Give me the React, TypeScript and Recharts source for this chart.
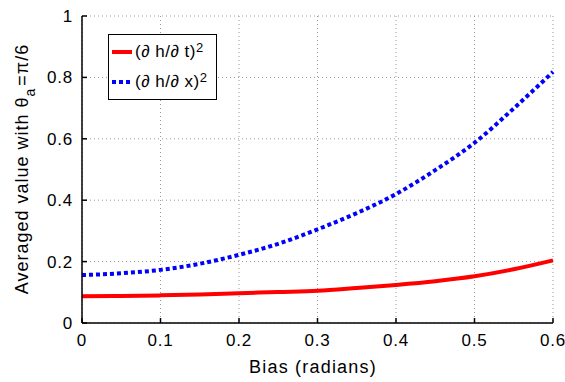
import { LineChart, Line, XAxis, YAxis, CartesianGrid } from 'recharts'

const BIAS = [0, 0.05, 0.1, 0.15, 0.2, 0.25, 0.3, 0.35, 0.4, 0.45, 0.5, 0.55, 0.6]
const DH_DT = [0.087, 0.088, 0.09, 0.093, 0.097, 0.101, 0.105, 0.114, 0.124, 0.136, 0.152, 0.175, 0.204]
const DH_DX = [0.156, 0.162, 0.173, 0.193, 0.222, 0.258, 0.305, 0.358, 0.42, 0.498, 0.587, 0.699, 0.818]
const X_TICKS = [0, 0.1, 0.2, 0.3, 0.4, 0.5, 0.6]
const Y_TICKS = [0, 0.2, 0.4, 0.6, 0.8, 1]

const FONT = '"Liberation Sans", Arial, Helvetica, sans-serif'

const data = BIAS.map((b, i) => ({ bias: b, dt: DH_DT[i], dx: DH_DX[i] }))

const noTick = () => <g />

function YLabel() {
  const cx = 28
  const cy = 169
  return (
    <text x={cx} y={cy} transform={`rotate(-90, ${cx}, ${cy})`} textAnchor="middle"
      fontSize={18} letterSpacing={1} fontFamily={FONT} fill="#000">
      Averaged value with θ
      <tspan dy={7} fontSize={14}>a</tspan>
      <tspan dy={-7} dx={2}>=π/6</tspan>
    </text>
  )
}

function XLabel() {
  return (
    <text x={313} y={373} textAnchor="middle" fontSize={18} letterSpacing={1.2}
      fontFamily={FONT} fill="#000">
      Bias (radians)
    </text>
  )
}

function LegendBox() {
  const row = (color: string, dash: string | undefined, label: string) => (
    <div style={{ display: 'flex', alignItems: 'center', height: 30 }}>
      <svg width={24} height={10} style={{ marginRight: 2 }}>
        <line x1={3} y1={5} x2={23} y2={5} stroke={color} strokeWidth={4} strokeDasharray={dash} />
      </svg>
      <span style={{ letterSpacing: 0.5 }}>
        {label}
        <sup style={{ fontSize: 13, verticalAlign: 'top', position: 'relative', top: -4 }}>2</sup>
      </span>
    </div>
  )
  return (
    <div style={{
      position: 'absolute', left: 108, top: 34,
      border: '1.5px solid #000', background: '#fff', width: 107, height: 62,
      fontFamily: FONT, fontSize: 17, lineHeight: '20px', color: '#000', paddingTop: 2,
      boxSizing: 'content-box',
    }}>
      {row('#ff0000', undefined, '(∂ h/∂ t)')}
      {row('#0000ff', '4 3', '(∂ h/∂ x)')}
    </div>
  )
}

export default function App() {
  const tickStyle = { fill: '#000', fontSize: 17, fontFamily: FONT, letterSpacing: 0.8 }
  return (
    <div style={{ position: 'absolute', left: 0, top: 0, width: 565, height: 382, background: '#fff' }}>
      <LineChart width={565} height={382} data={data}
        margin={{ top: 16, right: 12, bottom: 20, left: 22 }}>
        <CartesianGrid stroke="#999" strokeDasharray="1 3" />
        <XAxis dataKey="bias" type="number" domain={[0, 0.6]} ticks={X_TICKS}
          tickFormatter={v => String(v)} stroke="#000" strokeWidth={1.5}
          tickSize={-5} tickMargin={16} height={39}
          tick={tickStyle}
          label={<XLabel />} />
        <XAxis xAxisId="top" orientation="top" dataKey="bias" type="number" domain={[0, 0.6]}
          ticks={X_TICKS} stroke="#000" strokeWidth={1.5} tickSize={-5} tick={noTick} height={0} />
        <YAxis type="number" domain={[0, 1]} ticks={Y_TICKS} tickFormatter={v => String(v)}
          stroke="#000" strokeWidth={1.5} tickSize={-5} tickMargin={14} width={60}
          tick={tickStyle}
          label={<YLabel />} />
        <YAxis yAxisId="right" orientation="right" type="number" domain={[0, 1]} ticks={Y_TICKS}
          stroke="#000" strokeWidth={1.5} tickSize={-5} tick={noTick} width={0} />
        <Line dataKey="dt" type="monotone" stroke="#ff0000" strokeWidth={4} dot={false}
          isAnimationActive={false} />
        <Line dataKey="dx" type="monotone" stroke="#0000ff" strokeWidth={4} strokeDasharray="4 3"
          dot={false} isAnimationActive={false} />
      </LineChart>
      <LegendBox />
    </div>
  )
}
